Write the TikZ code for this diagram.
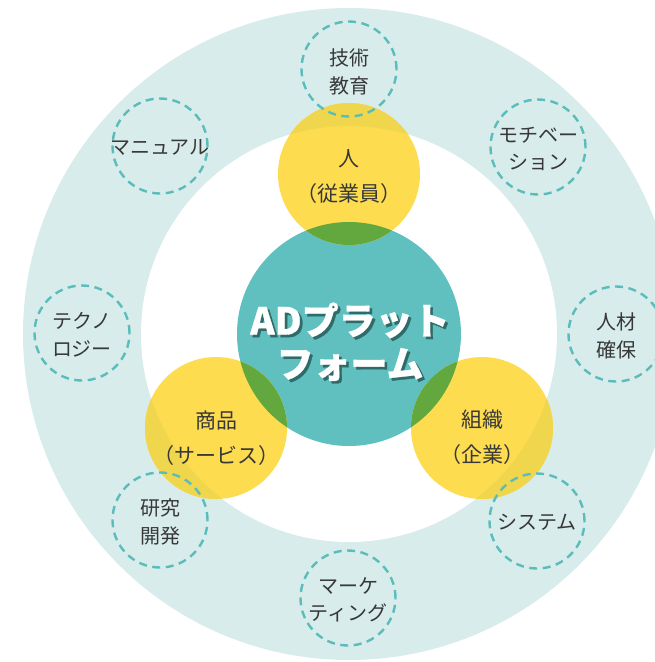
\documentclass[tikz,border=0pt]{standalone}
\usepackage{fontspec}
\newfontfamily\jp{Noto Sans CJK JP}
\usetikzlibrary{calc}
\definecolor{ringc}{HTML}{D7ECEB}
\definecolor{tealc}{HTML}{5FC0BF}
\definecolor{yelc}{HTML}{FDDC50}
\definecolor{yeldark}{HTML}{F0D64C}
\definecolor{greenc}{HTML}{63A83F}
\definecolor{dashc}{HTML}{5BBDBB}
\definecolor{txtc}{HTML}{383838}
\definecolor{shadc}{HTML}{2F6C69}
\newcommand{\shadline}[1]{\makebox[0pt][l]{\hspace{2.6pt}\raisebox{-2.6pt}{\textcolor{shadc}{#1}}}\textcolor{white}{#1}}
\tikzset{
  dashcirc/.style={circle, draw=dashc, line width=2.4pt, dash pattern=on 8pt off 5.5pt, minimum size=95pt, inner sep=0pt},
  smalltxt/.style={font=\jp\fontsize{20}{27.5}\selectfont, text=txtc, align=center, inner sep=0pt},
  yeltxt/.style={font=\jp\fontsize{21}{35}\selectfont, text=txtc, align=center, inner sep=0pt},
  bigtxt/.style={font=\jp\bfseries\addfontfeature{FakeBold=0.8}\fontsize{37}{43}\selectfont, align=center, inner sep=0pt},
  yelcirc/.style={circle, fill=yelc, minimum size=142pt, inner sep=0pt},
}
\begin{document}
\begin{tikzpicture}[x=1pt,y=1pt]
\useasboundingbox (0,0) rectangle (655,-662);
\clip (0,0) rectangle (655,-662);
\coordinate (C) at (349,-334);
% outer ring
\fill[ringc] (C) circle (326);
\fill[white] (C) circle (208);
% central circle
\node[circle, fill=tealc, minimum size=224pt, inner sep=0pt] (core) at (C) {};
% yellow circles
\node[yelcirc] (hito) at (349,-174) {};
\node[yelcirc] (shohin) at (216,-428) {};
\node[yelcirc] (soshiki) at (482,-428) {};
% darker yellow where yellow lies on ring, green where it lies on the core
\foreach \p in {hito,shohin,soshiki}{
  \begin{scope}
    \clip (\p) circle (71);
    \fill[yeldark, even odd rule] (C) circle (326) (C) circle (208);
  \end{scope}
  \begin{scope}
    \clip (\p) circle (71);
    \fill[greenc] (C) circle (112);
  \end{scope}
}
% dashed circles
\node[dashcirc] (d1) at (349,-69) {};
\node[dashcirc] (d2) at (538,-147) {};
\node[dashcirc] (d3) at (616,-334) {};
\node[dashcirc] (d4) at (537,-521) {};
\node[dashcirc] (d5) at (348,-598) {};
\node[dashcirc] (d6) at (160,-520) {};
\node[dashcirc] (d7) at (82,-333) {};
\node[dashcirc] (d8) at (160,-146) {};
% dashed labels
\node[smalltxt] (t1) at ($(d1)+(0,-3)$) {技術\\教育};
\node[smalltxt] (t2) at ($(d2)+(0,-2)$) {モチベー\\ション};
\node[smalltxt] (t3) at ($(d3)+(0,-2)$) {人材\\確保};
\node[smalltxt] (t4) at ($(d4)+(0,-1)$) {システム};
\node[smalltxt] (t5) at ($(d5)+(0,-2)$) {マーケ\\ティング};
\node[smalltxt] (t6) at ($(d6)+(0,-2)$) {研究\\開発};
\node[smalltxt] (t7) at ($(d7)+(0,-2)$) {テクノ\\ロジー};
\node[smalltxt] (t8) at ($(d8)+(0,-1)$) {マニュアル};
% yellow labels
\node[yeltxt] (ht) at ($(hito)+(0,-3)$) {人\\（従業員）};
\node[yeltxt] (st) at ($(shohin)+(0,-10)$) {商品\\（サービス）};
\node[yeltxt] (kt) at ($(soshiki)+(0,-9)$) {組織\\（企業）};
% center label with shadow
\node[bigtxt] (coretext) at ($(core)+(1,-9)$) {\shadline{ADプラット}\\\shadline{フォーム}};
\end{tikzpicture}
\end{document}
